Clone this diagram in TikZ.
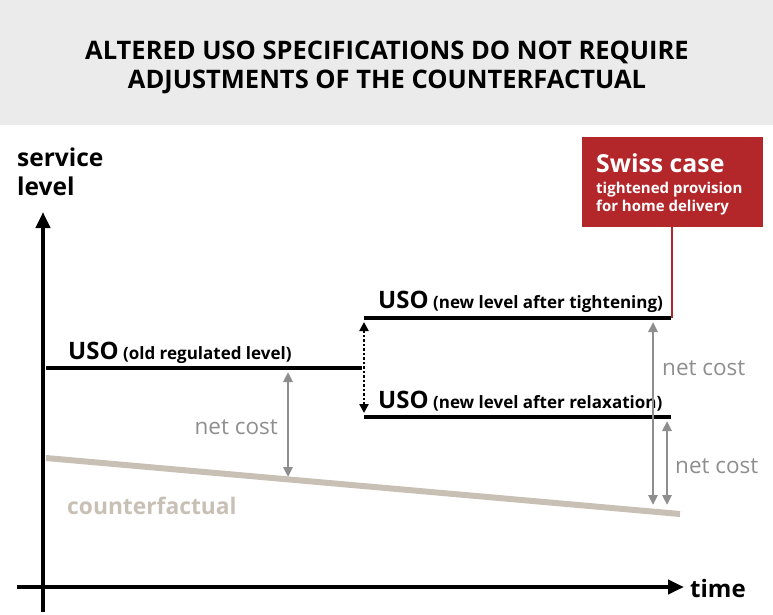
\documentclass[tikz,border=0pt]{standalone}
\usepackage{fontspec}
\setmainfont{Open Sans}
\usetikzlibrary{arrows.meta}
\definecolor{headgray}{HTML}{EBEBEB}
\definecolor{swissred}{HTML}{B3262A}
\definecolor{costgray}{HTML}{8E8E8E}
\definecolor{cfbeige}{HTML}{C9C0B5}
\tikzset{
  axis/.style={line width=4pt, -{Triangle[length=16pt,width=14pt]}},
  level/.style={line width=4pt},
  costarrow/.style={costgray, line width=2.5pt, {Triangle[length=10pt,width=9pt]}-{Triangle[length=10pt,width=9pt]}},
  costlabel/.style={costgray, font=\fontsize{22.5}{24}\selectfont, inner sep=0pt},
  usolabel/.style={font=\bfseries\fontsize{17}{19}\selectfont, inner sep=0pt, anchor=base west},
}
\newcommand{\uso}{{\fontsize{24}{26}\selectfont USO}}
\begin{document}
\begin{tikzpicture}[x=1pt,y=-1pt]
\useasboundingbox (0,0) rectangle (773,615);
% title band
\fill[headgray] (0,0) rectangle (773,125);
\node[font=\bfseries\fontsize{25.5}{29}\selectfont, align=center] (title) at (387,67)
  {ALTERED USO SPECIFICATIONS DO NOT REQUIRE\\ADJUSTMENTS OF THE COUNTERFACTUAL};

% axes
\coordinate (ybot) at (43,612);
\coordinate (ytop) at (43,212);
\coordinate (xleft) at (17,587);
\coordinate (xright) at (684,587);
\draw[axis] (ybot) -- (ytop);
\draw[axis] (xleft) -- (xright);
% multi-line nodes: the base anchor is the baseline of the last line
\node[font=\bfseries\fontsize{24.5}{29}\selectfont, align=left, anchor=base west, inner sep=0pt] (ylab) at (17,195) {service\\level};
\node[font=\bfseries\fontsize{24}{26}\selectfont, anchor=west, inner sep=0pt] (xlab) at (690,588) {time};

% counterfactual
\coordinate (cfa) at (46,458);
\coordinate (cfb) at (680,514);
\draw[cfbeige, line width=6pt] (cfa) -- (cfb);
\node[cfbeige, font=\bfseries\fontsize{22.8}{25}\selectfont, anchor=base west, inner sep=0pt] (cflab) at (67,514) {counterfactual};

% USO levels
\coordinate (olda) at (46,368);
\coordinate (oldb) at (362,368);
\coordinate (tighta) at (364,318);
\coordinate (tightb) at (671,318);
\coordinate (relaxa) at (364,417);
\coordinate (relaxb) at (671,417);
\draw[level] (olda) -- (oldb);
\draw[level] (tighta) -- (tightb);
\draw[level] (relaxa) -- (relaxb);
\node[usolabel] (oldlab) at (68,359) {\uso\ (old regulated level)};
\node[usolabel] (tightlab) at (378,308) {\uso\ (new level after tightening)};
\node[usolabel] (relaxlab) at (378,408) {\uso\ (new level after relaxation)};

% change of the regulated level
\coordinate (chtop) at (364,322);
\coordinate (chbot) at (364,413);
\draw[line width=2.5pt, dotted, {Triangle[length=9pt,width=9pt]}-{Triangle[length=9pt,width=9pt]}] (chtop) -- (chbot);

% Swiss case box
\node[fill=swissred, minimum width=181pt, minimum height=90pt, anchor=north west, inner sep=0pt] (swiss) at (582,137) {};
\node[text=white, font=\bfseries\fontsize{24.8}{27}\selectfont, anchor=base west, inner sep=0pt] (swisst) at (596,172) {Swiss case};
\node[text=white, font=\bfseries\fontsize{15}{18}\selectfont, align=left, anchor=base west, inner sep=0pt] (swisss) at (596,211) {tightened provision\\for home delivery};
\coordinate (swissfoot) at (672,318);
\draw[swissred, line width=1.5pt] (swiss.south -| swissfoot) -- (swissfoot);

% net cost arrows
\coordinate (nc1t) at (288,372);
\coordinate (nc1b) at (288,477);
\coordinate (nc2t) at (653,322);
\coordinate (nc2b) at (653,505);
\coordinate (nc3t) at (667,421);
\coordinate (nc3b) at (667,505);
\draw[costarrow] (nc1t) -- (nc1b);
\draw[costarrow] (nc2t) -- (nc2b);
\draw[costarrow] (nc3t) -- (nc3b);
\node[costlabel, anchor=east] (nc1lab) at (278,427) {net cost};
\node[costlabel, anchor=west] (nc2lab) at (662,368) {net cost};
\node[costlabel, anchor=west] (nc3lab) at (675,466) {net cost};
\end{tikzpicture}
\end{document}
